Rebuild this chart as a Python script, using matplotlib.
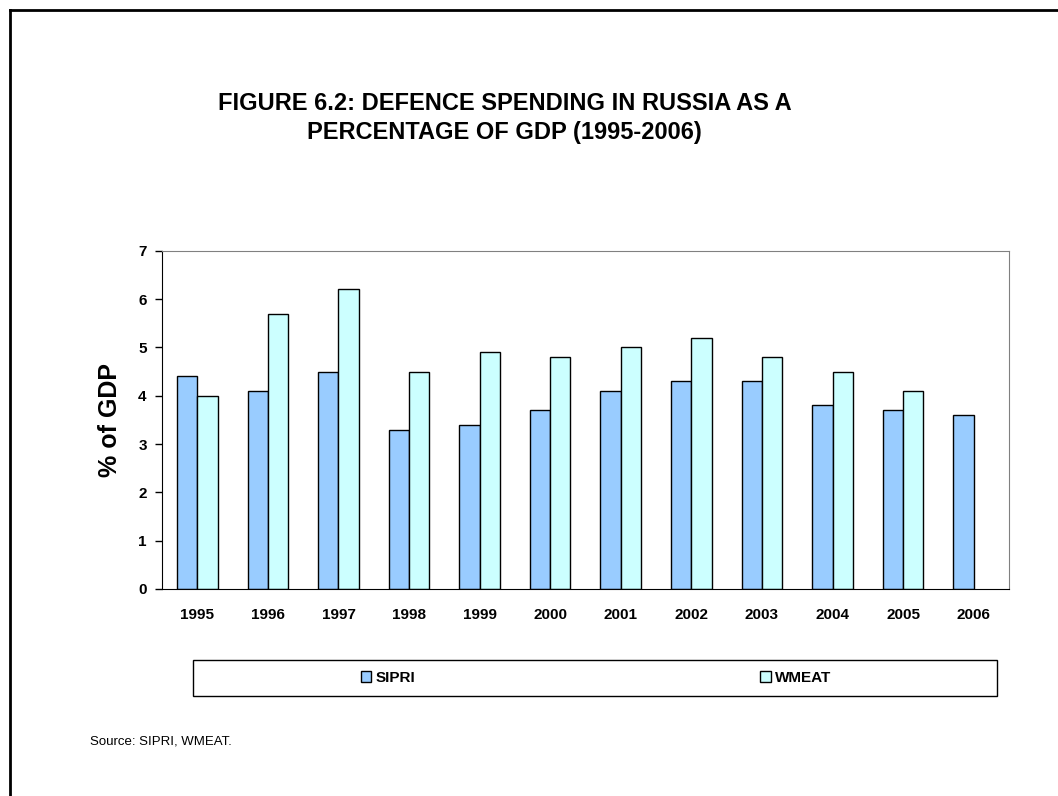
import numpy as np
import matplotlib.pyplot as plt
from matplotlib.lines import Line2D
from matplotlib.patches import Rectangle

plt.rcParams['font.family'] = ['Liberation Sans', 'DejaVu Sans']

# --- data ---
years = ['1995', '1996', '1997', '1998', '1999', '2000',
         '2001', '2002', '2003', '2004', '2005', '2006']
sipri = [4.4, 4.1, 4.5, 3.3, 3.4, 3.7, 4.1, 4.3, 4.3, 3.8, 3.7, 3.6]
wmeat = [4.0, 5.7, 6.2, 4.5, 4.9, 4.8, 5.0, 5.2, 4.8, 4.5, 4.1, np.nan]

title = 'FIGURE 6.2: DEFENCE SPENDING IN RUSSIA AS A\nPERCENTAGE OF GDP (1995-2006)'
source = 'Source: SIPRI, WMEAT.'

fig = plt.figure(figsize=(10.58, 7.96), dpi=100)
ax = fig.add_axes([0.1531, 0.2601, 0.8006, 0.4249])

x = np.arange(len(years))
w = 0.2875
b1 = ax.bar(x - w / 2, sipri, w, color='#99CCFF', edgecolor='black', linewidth=1)
b2 = ax.bar(x + w / 2, wmeat, w, color='#CCFFFF', edgecolor='black', linewidth=1)

ax.set_xlim(-0.5, len(years) - 0.5)
ax.set_ylim(0, 7)
ax.set_yticks(range(0, 8))
ax.set_xticks(x)
ax.set_xticklabels(years)
ax.tick_params(axis='x', length=0, pad=14, labelsize=11)
ax.tick_params(axis='y', length=5, width=1, pad=6, labelsize=11)
for lab in ax.get_xticklabels() + ax.get_yticklabels():
    lab.set_fontweight('bold')

ax.set_ylabel('% of GDP', fontsize=18, fontweight='bold', labelpad=12)

for s in ['top', 'right']:
    ax.spines[s].set_color('#808080')
for s in ['bottom', 'left']:
    ax.spines[s].set_color('black')

# title and source
fig.text(0.477, 0.852, title, ha='center', va='center', fontsize=17,
         fontweight='bold', linespacing=1.35)
fig.text(0.085, 0.069, source, ha='left', va='center', fontsize=9.5)

# legend box with two centered entries
fig.patches.append(Rectangle((0.1824, 0.1256), 0.7599, 0.0452, transform=fig.transFigure,
                             facecolor='white', edgecolor='black', linewidth=1))
leg_kw = dict(frameon=False, handlelength=0.7, handleheight=0.7, handletextpad=0.3,
              prop={'weight': 'bold', 'size': 11}, loc='center')
l1 = fig.legend([b1], ['SIPRI'], bbox_to_anchor=(0.3670, 0.1482), **leg_kw)
l2 = fig.legend([b2], ['WMEAT'], bbox_to_anchor=(0.7520, 0.1482), **leg_kw)

# outer frame lines (top and left)
fig.lines.append(Line2D([0.0095, 1.0], [0.987, 0.987], transform=fig.transFigure,
                        color='black', linewidth=2))
fig.lines.append(Line2D([0.0095, 0.0095], [0.0, 0.987], transform=fig.transFigure,
                        color='black', linewidth=2))

fig.savefig('out.png', dpi=100)
